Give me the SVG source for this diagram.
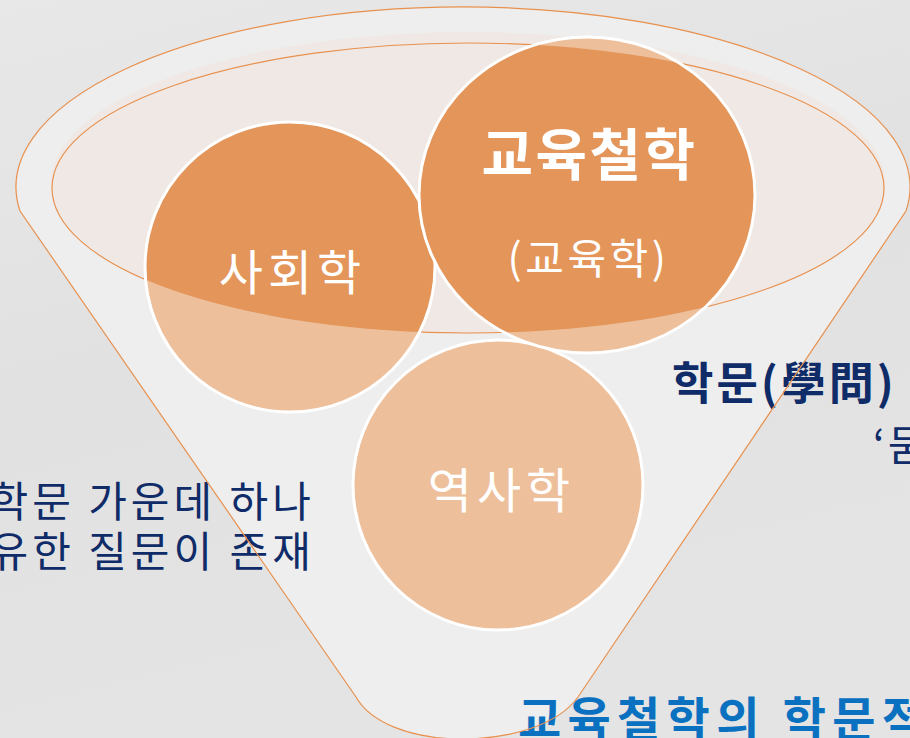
<svg xmlns="http://www.w3.org/2000/svg" width="910" height="738" viewBox="0 0 910 738">
<defs>
<style>
.ko{font-family:"Noto Sans CJK KR","Noto Sans",sans-serif}
.light{fill:#eebf9b}
.dark{fill:#e3955a}
.ring{fill:none;stroke:#ffffff;stroke-width:3}
.wt{fill:#ffffff;text-anchor:middle}
.navy{fill:#0f2b68}
.edge{fill:none;stroke:#e8914f;stroke-width:1.2}
</style>
<linearGradient id="bg" x1="0" y1="0" x2="0.3" y2="1">
<stop offset="0" stop-color="#e8e8e8"/>
<stop offset="0.5" stop-color="#e1e1e1"/>
<stop offset="1" stop-color="#e4e4e4"/>
</linearGradient>
<linearGradient id="bowlFill" x1="0" y1="0" x2="0" y2="1">
<stop offset="0" stop-color="#e8dad2"/>
<stop offset="0.75" stop-color="#e7dcd5"/>
<stop offset="0.9" stop-color="#e2dedb"/>
<stop offset="1" stop-color="#e3e3e3"/>
</linearGradient>
<clipPath id="bowl"><ellipse cx="468" cy="188" rx="416" ry="145"/></clipPath>
</defs>
<rect width="910" height="738" fill="url(#bg)"/>
<g id="funnel">
<path d="M20,211 A447,180 0 1 1 906,211 L578,697 C558,725 510,739 462,739 C410,739 370,722 356,697 Z" fill="#eeeeee"/>
<ellipse cx="468" cy="183" rx="417" ry="151" fill="#f1e3dc" opacity="0.55"/>
<ellipse cx="468" cy="188" rx="416" ry="145" fill="url(#bowlFill)" class="edge"/>
</g>
<g id="node-sahoehak">
<circle cx="290" cy="267" r="145" class="light"/>
<circle cx="290" cy="267" r="145" class="dark" clip-path="url(#bowl)"/>
<circle cx="290" cy="267" r="145" class="ring"/>
<text x="292.5" y="290" class="ko wt" font-size="48" letter-spacing="5">사회학</text>
</g>
<g id="node-yeoksahak">
<circle cx="498" cy="485" r="145" class="light"/>
<circle cx="498" cy="485" r="145" class="dark" clip-path="url(#bowl)"/>
<circle cx="498" cy="485" r="145" class="ring"/>
<text x="501.5" y="508" class="ko wt" font-size="48" letter-spacing="5">역사학</text>
</g>
<g id="node-gyoyukcheolhak">
<ellipse cx="587" cy="195" rx="168" ry="158" class="light"/>
<ellipse cx="587" cy="195" rx="168" ry="158" class="dark" clip-path="url(#bowl)"/>
<ellipse cx="587" cy="195" rx="168" ry="158" class="ring"/>
<text x="589.5" y="175" class="ko wt" font-size="56" font-weight="bold" letter-spacing="2.5">교육철학</text>
<text x="588.5" y="274" class="ko wt" font-size="42" letter-spacing="3.5">(교육학)</text>
</g>
<g id="labels">
<text x="672" y="400" class="ko navy" font-size="45" font-weight="bold" letter-spacing="3">학문(學問)</text>
<text x="873" y="461" class="ko navy" font-size="42" letter-spacing="3">‘묻</text>
<text x="-10.5" y="517" class="ko navy" font-size="42" letter-spacing="4">학문 가운데 하나</text>
<text x="-10.5" y="567" class="ko navy" font-size="42" letter-spacing="4">유한 질문이 존재</text>
<text x="518" y="736" class="ko" font-size="47" font-weight="bold" fill="#0a70c0" letter-spacing="6.3">교육철학의 학문적</text>
</g>
<g id="connectors">
<path d="M20,211 A447,180 0 1 1 906,211 L578,697 C558,725 510,739 462,739 C410,739 370,722 356,697 Z" class="edge"/>
</g>
</svg>
